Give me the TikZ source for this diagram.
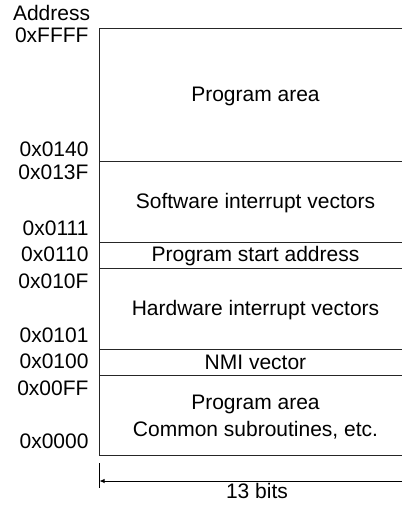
\documentclass[tikz,border=0pt]{standalone}
\usepackage{fontspec}
\setmainfont{Liberation Sans}
\usetikzlibrary{arrows.meta}
\begin{document}
\begin{tikzpicture}[x=1bp,y=-1bp,
  every node/.style={inner sep=0pt,outer sep=0pt,font=\fontsize{21bp}{25bp}\selectfont},
  addr/.style={anchor=base east},
  area/.style={anchor=base},
  rule/.style={line width=1bp,draw=black!85,line cap=butt}]
\useasboundingbox (0,0) rectangle (402,506);
% frame
\draw[rule] (402,29) -- (99,29) -- (99,455) -- (402,455);
\draw[rule] (99,162) -- (402,162);
\draw[rule] (99,242) -- (402,242);
\draw[rule] (99,268) -- (402,268);
\draw[rule] (99,349) -- (402,349);
\draw[rule] (99,375) -- (402,375);
% header
\node[anchor=base west] (hdr) at (13,21) {Address};
% address labels
\node[addr] (aFFFF) at (88.5,43) {0xFFFF};
\node[addr] (a0140) at (88.5,157) {0x0140};
\node[addr] (a013F) at (88.5,180) {0x013F};
\node[addr] (a0111) at (88.5,235) {0x0111};
\node[addr] (a0110) at (88.5,261) {0x0110};
\node[addr] (a010F) at (88.5,288) {0x010F};
\node[addr] (a0101) at (88.5,342) {0x0101};
\node[addr] (a0100) at (88.5,368) {0x0100};
\node[addr] (a00FF) at (88.5,395) {0x00FF};
\node[addr] (a0000) at (88.5,448) {0x0000};
% area texts
\node[area] (prog) at (255.5,102) {Program area};
\node[area] (swi) at (255.5,208) {Software interrupt vectors};
\node[area] (start) at (255.5,261) {Program start address};
\node[area] (hwi) at (255.5,315) {Hardware interrupt vectors};
\node[area] (nmi) at (255.5,369) {NMI vector};
\node[area] (prog2) at (255.5,409) {Program area};
\node[area] (common) at (255.5,436) {Common subroutines, etc.};
% width dimension
\coordinate (tickT) at (99,463);
\coordinate (tickB) at (99,488);
\coordinate (arrR) at (402,481);
\coordinate (arrL) at (99.5,481);
\draw[line width=1bp] (tickT) -- (tickB);
\draw[line width=0.9bp,-{Latex[length=5bp,width=4.5bp]}] (arrR) -- (arrL);
\node[area] (bits) at (257,498) {13 bits};
\end{tikzpicture}
\end{document}
